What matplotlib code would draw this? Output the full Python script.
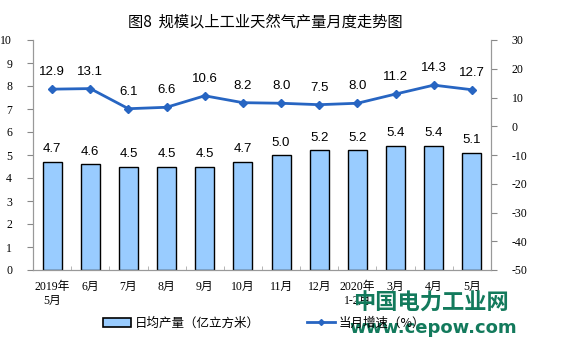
import matplotlib
matplotlib.use("Agg")
import matplotlib.pyplot as plt
import numpy as np
from matplotlib.lines import Line2D
from matplotlib.patches import Patch

categories = ["2019年\n5月", "6月", "7月", "8月", "9月", "10月", "11月", "12月",
              "2020年\n1-2月", "3月", "4月", "5月"]
daily_output = [4.7, 4.6, 4.5, 4.5, 4.5, 4.7, 5.0, 5.2, 5.2, 5.4, 5.4, 5.1]
growth = [12.9, 13.1, 6.1, 6.6, 10.6, 8.2, 8.0, 7.5, 8.0, 11.2, 14.3, 12.7]
left_ticks = list(range(0, 11))
right_ticks = list(range(-50, 31, 10))

serif = ["Liberation Serif", "Noto Sans CJK SC"]
sans = ["Liberation Sans", "Noto Sans CJK SC"]
cjk = ["Noto Sans CJK SC", "DejaVu Sans"]

fig = plt.figure(figsize=(5.61, 3.57), dpi=100)
ax = fig.add_axes([33/561, 1-270/357, (491-33)/561, 230/357])
ax2 = ax.twinx()

x = np.arange(len(categories))
ax.bar(x, daily_output, width=0.5, color="#99CCFF", edgecolor="black", linewidth=1.0, zorder=2)
for xi, v in zip(x, daily_output):
    ax.text(xi, v + 0.28, f"{v:.1f}", ha="center", va="bottom", fontsize=9.5, family=sans)

ax2.plot(x, growth, color="#2765C2", linewidth=2, marker="D", markersize=4, zorder=3)
for xi, v in zip(x, growth):
    ax2.text(xi, v + 3.8, f"{v:.1f}", ha="center", va="bottom", fontsize=9.5, family=sans)

ax.set_xlim(-0.5, len(categories) - 0.5)
ax.set_ylim(0, 10)
ax2.set_ylim(-50, 30)
ax.set_yticks(left_ticks)
ax2.set_yticks(right_ticks)
ax.set_yticklabels([str(t) for t in left_ticks], family=serif, fontsize=8.5)
ax2.set_yticklabels([str(t) for t in right_ticks], family=serif, fontsize=8.5)

ax.set_xticks(x)
ax.set_xticklabels(categories, family=serif, fontsize=8.5, linespacing=1.25)
ax.tick_params(axis="x", length=0, pad=8)
ax.set_xticks(np.arange(-0.5, len(categories), 1), minor=True)
ax.tick_params(axis="x", which="minor", direction="in", length=3, color="#aaaaaa")
ax.tick_params(axis="y", length=4, color="#888888", pad=11)
ax2.tick_params(axis="y", length=4, color="#888888", pad=11)

for a in (ax, ax2):
    a.spines["top"].set_visible(False)
    for s in ("left", "right", "bottom"):
        a.spines[s].set_color("#999999")
        a.spines[s].set_linewidth(0.8)

fig.text(265/561, 1-22/357, "图8  规模以上工业天然气产量月度走势图", ha="center", va="center",
         fontsize=11, family=cjk, fontweight="medium")

handles = [Patch(facecolor="#99CCFF", edgecolor="black", linewidth=1.2),
           Line2D([0], [0], color="#2765C2", linewidth=2, marker="D", markersize=3)]
labels = ["日均产量（亿立方米）", "当月增速（%）"]
fig.legend(handles, labels, loc="center", bbox_to_anchor=(264/561, 1-323/357), ncol=2,
           frameon=False, prop={"family": cjk, "size": 9}, columnspacing=3.8,
           handlelength=2.2, handletextpad=0.3)

fig.text(431/561, 1-303/357, "中国电力工业网", ha="center", va="center", fontsize=16,
         family=cjk, fontweight="bold", color="#137A5C")
fig.text(433/561, 1-328/357, "www.cepow.com", ha="center", va="center", fontsize=13,
         family=["DejaVu Sans"], fontweight="bold", color="#137A5C")

fig.savefig("out.png", dpi=100)
